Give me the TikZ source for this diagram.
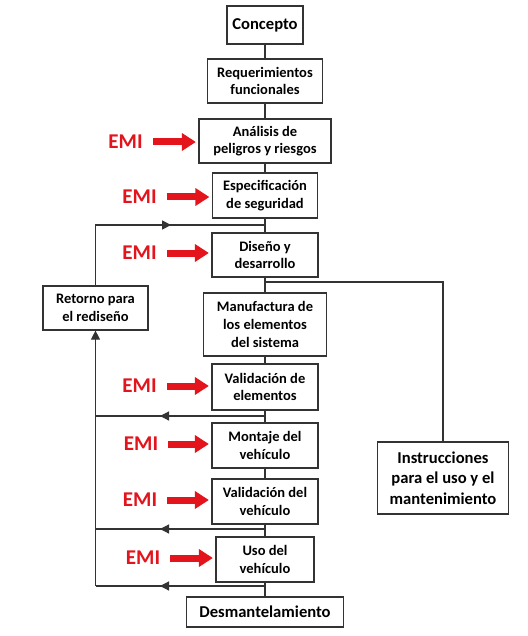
\documentclass[tikz,border=0pt]{standalone}
\usepackage{fontspec}
\setmainfont{Carlito}
\usetikzlibrary{arrows.meta,decorations.markings,calc}
\definecolor{emired}{HTML}{E3141C}
\definecolor{linegray}{HTML}{333333}
\tikzset{
  box/.style={draw=linegray, line width=1.2pt, align=center, inner sep=0pt,
    font=\bfseries\fontsize{14.5}{17.6}\selectfont},
  bigbox/.style={box, font=\bfseries\fontsize{16.6}{20.5}\selectfont},
  emi/.style={text=emired, inner sep=0pt, font=\bfseries\fontsize{21}{24}\selectfont},
  redarrow/.style={draw=emired, line width=7pt,
    -{Triangle[length=14pt,width=17pt]}, shorten <=10pt, shorten >=2.5pt},
  conn/.style={draw=linegray, line width=1.2pt},
  tip/.style={-{Triangle[length=9pt,width=9pt]}},
  midtip/.style={postaction={decorate}, decoration={markings,
    mark=at position #1 with {\arrow{Triangle[length=9pt,width=9pt]}}}}
}
\begin{document}
\begin{tikzpicture}[x=1pt,y=-1pt]
\useasboundingbox (0,0) rectangle (527,636);
\fill[white] (0,0) rectangle (527,636);
% main column
\node[bigbox, minimum width=76pt, minimum height=38pt] (concepto) at (265,25) {Concepto};
\node[box, minimum width=115pt, minimum height=44pt] (req) at (265,81) {Requerimientos\\funcionales};
\node[box, minimum width=132pt, minimum height=44pt] (anal) at (265,141) {Análisis de\\peligros y riesgos};
\node[box, minimum width=105pt, minimum height=45pt] (espec) at (265,195.5) {Especificación\\de seguridad};
\node[box, minimum width=106pt, minimum height=44pt] (dis) at (265,255) {Diseño y\\desarrollo};
\node[box, minimum width=123pt, minimum height=63pt] (manu) at (265,324.5) {Manufactura de\\los elementos\\del sistema};
\node[box, minimum width=106pt, minimum height=46pt] (valel) at (265,387) {Validación de\\elementos};
\node[box, minimum width=106pt, minimum height=45pt] (mont) at (265,445.5) {Montaje del\\vehículo};
\node[box, minimum width=106pt, minimum height=45pt] (valve) at (265,501.5) {Validación del\\vehículo};
\node[box, minimum width=98pt, minimum height=45pt] (uso) at (265,559.5) {Uso del\\vehículo};
\node[bigbox, minimum width=157pt, minimum height=30pt] (desm) at (265,612) {Desmantelamiento};
% side boxes
\node[box, minimum width=105pt, minimum height=44pt] (ret) at (95.5,308) {Retorno para\\el rediseño};
\node[bigbox, minimum width=131pt, minimum height=72pt] (instr) at (443,478) {Instrucciones\\para el uso y el\\mantenimiento};
% junctions
\coordinate (j0) at (265,225);
\coordinate (jr) at (265,282);
\coordinate (j1) at (265,416);
\coordinate (j2) at (265,529);
\coordinate (j3) at (265,586);
% vertical chain
\foreach \a/\b in {concepto/req, req/anal, anal/espec, espec/dis, dis/manu, manu/valel, valel/mont, mont/valve, valve/uso, uso/desm}
  \draw[conn] (\a.south) -- (\b.north);
% right branch
\draw[conn] (jr) -| (instr.north);
% feedback loop
\draw[conn, midtip=136pt] (ret.north) |- (j0);
\draw[conn, midtip=105pt] (j1) -- (j1 -| ret.south);
\draw[conn, midtip=105pt] (j2) -- (j2 -| ret.south);
\draw[conn, midtip=105pt] (j3) -- (j3 -| ret.south);
\draw[conn, tip] (j3 -| ret.south) -- (ret.south);
% EMI labels and arrows
\node[emi] (e1) at (125.5,142) {EMI};
\node[emi] (e2) at (139.5,197) {EMI};
\node[emi] (e3) at (139.5,253) {EMI};
\node[emi] (e4) at (139.5,386) {EMI};
\node[emi] (e5) at (141,444) {EMI};
\node[emi] (e6) at (140,500) {EMI};
\node[emi] (e7) at (143,558) {EMI};
\foreach \e/\b in {e1/anal, e2/espec, e3/dis, e4/valel, e5/mont, e6/valve, e7/uso}
  \draw[redarrow] (\e.east) -- (\e.east -| \b.west);
\end{tikzpicture}
\end{document}
